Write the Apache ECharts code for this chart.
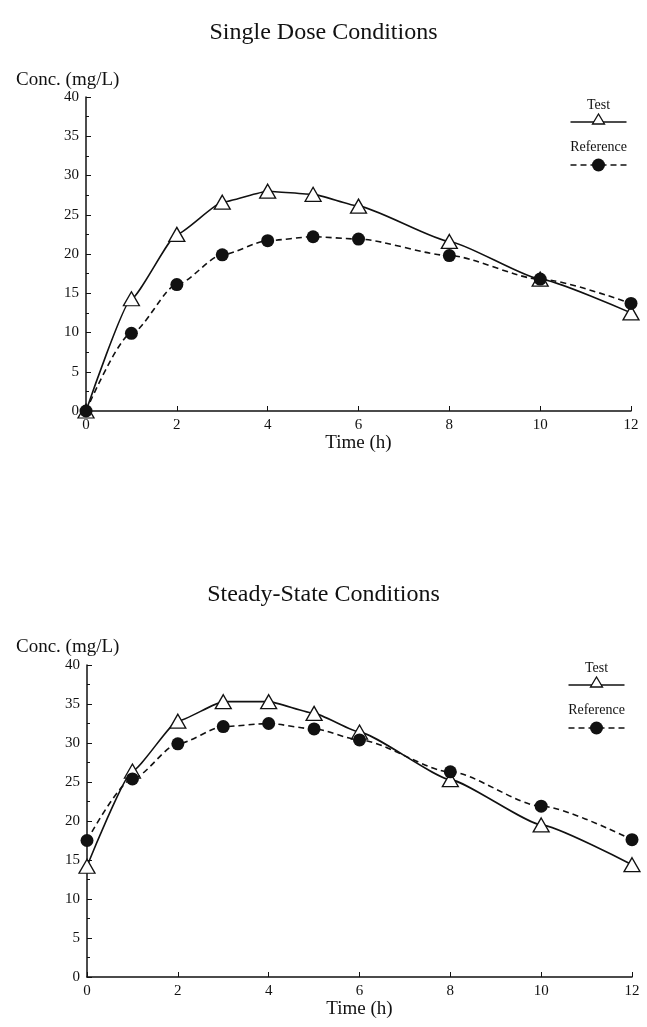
<!DOCTYPE html>
<html>
<head>
<meta charset="UTF-8">
<title>Single Dose / Steady-State Conditions</title>
<script src="https://cdn.jsdelivr.net/npm/echarts@6/dist/echarts.min.js"></script>
<style>
  html, body { margin: 0; padding: 0; background: #fff; }
  #chart { width: 647px; height: 1027px; }
</style>
</head>
<body>
<div id="chart"></div>
<script>
// time points (h)
var hours = [0, 1, 2, 3, 4, 5, 6, 8, 10, 12];

// single dose, mg/L
var singleTest = [0, 14.3, 22.5, 26.6, 28.0, 27.6, 26.1, 21.6, 16.8, 12.5];
var singleRef  = [0, 9.9, 16.1, 19.9, 21.7, 22.2, 21.9, 19.8, 16.8, 13.7];

// steady state, mg/L
var steadyTest = [14.2, 26.4, 32.8, 35.3, 35.3, 33.8, 31.4, 25.3, 19.5, 14.4];
var steadyRef  = [17.5, 25.4, 29.9, 32.1, 32.5, 31.8, 30.4, 26.3, 21.9, 17.6];

var titles = ['Single Dose Conditions', 'Steady-State Conditions'];
var yName = 'Conc. (mg/L)';
var xName = 'Time (h)';

function pairs(ys) {
  return hours.map(function (h, i) { return [h, ys[i]]; });
}

var font = "'Liberation Serif', 'Times New Roman', serif";
var ink = '#111';

function xAxis(gi) {
  return {
    gridIndex: gi, type: 'value', min: 0, max: 12, interval: 2,
    name: xName, nameLocation: 'middle', nameGap: 23,
    nameTextStyle: { fontFamily: font, fontSize: 19, color: ink },
    axisLine: { lineStyle: { color: ink, width: 1.5 } },
    axisTick: { inside: true, length: 5, lineStyle: { color: ink } },
    axisLabel: { fontFamily: font, fontSize: 15, color: ink, margin: 7 },
    splitLine: { show: false }
  };
}
function yAxis(gi) {
  return {
    gridIndex: gi, type: 'value', min: 0, max: 40, interval: 5,
    axisLine: { show: true, lineStyle: { color: ink, width: 1.5 } },
    axisTick: { show: true, inside: true, length: 5, lineStyle: { color: ink } },
    minorTick: { show: true, splitNumber: 2, length: 3, lineStyle: { color: ink } },
    axisLabel: { fontFamily: font, fontSize: 15, color: ink, margin: 7 },
    splitLine: { show: false }
  };
}

function testSeries(gi, ys) {
  return {
    type: 'line', xAxisIndex: gi, yAxisIndex: gi, data: pairs(ys),
    smooth: 0.15, smoothMonotone: 'x', symbol: 'triangle', symbolSize: [16, 14],
    lineStyle: { color: ink, width: 1.6 },
    itemStyle: { color: '#fff', borderColor: ink, borderWidth: 1.3 },
    z: 3
  };
}
function refSeries(gi, ys) {
  return {
    type: 'line', xAxisIndex: gi, yAxisIndex: gi, data: pairs(ys),
    smooth: 0.25, smoothMonotone: 'x', symbol: 'circle', symbolSize: 13,
    lineStyle: { color: ink, width: 1.6, type: [6, 4] },
    itemStyle: { color: ink, borderWidth: 0 },
    z: 4
  };
}

function legendGroup(x, y) {
  var txt = function (s, ty) {
    return { type: 'text', x: 28, y: ty, style: { text: s, font: '14px ' + font, fill: ink, align: 'center', verticalAlign: 'middle' } };
  };
  return {
    type: 'group', left: x, top: y,
    children: [
      txt('Test', 0),
      { type: 'line', shape: { x1: 0, y1: 17, x2: 56, y2: 17 }, style: { stroke: ink, lineWidth: 1.5 } },
      { type: 'polygon', shape: { points: [[22, 19], [34, 19], [28, 9]] }, style: { fill: '#fff', stroke: ink, lineWidth: 1.3 } },
      txt('Reference', 42),
      { type: 'line', shape: { x1: 0, y1: 60, x2: 56, y2: 60 }, style: { stroke: ink, lineWidth: 1.5, lineDash: [6, 4] } },
      { type: 'circle', shape: { cx: 28, cy: 60, r: 6.5 }, style: { fill: ink } }
    ]
  };
}

var chart = echarts.init(document.getElementById('chart'), null, { renderer: 'canvas' });
chart.setOption({
  backgroundColor: '#fff',
  animation: false,
  title: [
    { text: titles[0], left: 'center', top: 16, textStyle: { fontFamily: font, fontSize: 24, fontWeight: 'normal', color: ink } },
    { text: titles[1], left: 'center', top: 578, textStyle: { fontFamily: font, fontSize: 24, fontWeight: 'normal', color: ink } },
    { text: yName, left: 11, top: 66, textStyle: { fontFamily: font, fontSize: 19, fontWeight: 'normal', color: ink } },
    { text: yName, left: 11, top: 633, textStyle: { fontFamily: font, fontSize: 19, fontWeight: 'normal', color: ink } }
  ],
  grid: [
    { left: 86, right: 16, top: 97, height: 314 },
    { left: 87, right: 15, top: 665, height: 312 }
  ],
  xAxis: [xAxis(0), xAxis(1)],
  yAxis: [yAxis(0), yAxis(1)],
  series: [
    testSeries(0, singleTest), refSeries(0, singleRef),
    testSeries(1, steadyTest), refSeries(1, steadyRef)
  ],
  graphic: [legendGroup(568, 98), legendGroup(566, 661)]
});
</script>
</body>
</html>
